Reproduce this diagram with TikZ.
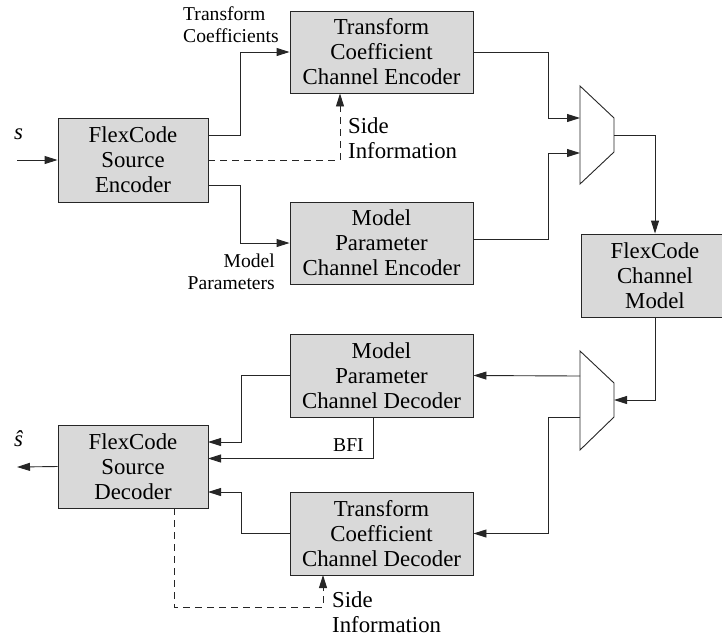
\documentclass[tikz,border=0pt]{standalone}
\usepackage{fontspec}
\setmainfont{Liberation Serif}
\usetikzlibrary{arrows.meta,calc}
\begin{document}
\begin{tikzpicture}[x=1pt,y=-1pt,
  block/.style={draw=black!85,line width=0.9pt,fill=black!15,align=center,
    font=\fontsize{22.8}{25}\selectfont,inner sep=0pt},
  wire/.style={line width=0.9pt,draw=black!85},
  arr/.style={wire,-{Triangle[length=13pt,width=8pt]}},
  dwire/.style={arr,dash pattern=on 7pt off 5pt},
  lbl/.style={font=\fontsize{19.6}{22}\selectfont,inner sep=0pt,align=left},
  biglbl/.style={font=\fontsize{22.8}{25}\selectfont,inner sep=0pt,align=left},
  mux/.style={draw=black!85,line width=0.9pt,fill=white}]
\useasboundingbox (0,0) rectangle (722,641);

% encoder side
\node[block,minimum width=183pt,minimum height=82pt] (tce) at (381.5,52) {Transform\\Coefficient\\Channel Encoder};
\node[block,minimum width=183pt,minimum height=82pt] (mpe) at (381.5,243) {Model\\Parameter\\Channel Encoder};
\node[block,minimum width=150pt,minimum height=84pt] (sce) at (133,160) {FlexCode\\Source\\Encoder};

% channel
\node[block,minimum width=148pt,minimum height=83pt] (cm) at (655,275.5) {FlexCode\\Channel\\Model};

% decoder side
\node[block,minimum width=183pt,minimum height=83pt] (mpd) at (381.5,375.5) {Model\\Parameter\\Channel Decoder};
\node[block,minimum width=183pt,minimum height=83pt] (tcd) at (381.5,533.5) {Transform\\Coefficient\\Channel Decoder};
\node[block,minimum width=150pt,minimum height=83pt] (scd) at (133,466.5) {FlexCode\\Source\\Decoder};

% multiplexer and demultiplexer
\draw[mux] (580,86) -- (614,118) -- (614,152) -- (580,184) -- cycle;
\draw[mux] (580,351) -- (614,383) -- (614,417) -- (580,450) -- cycle;
\coordinate (muxinA) at (580,118);
\coordinate (muxinB) at (580,153);
\coordinate (muxout) at (614,135);
\coordinate (dmxin) at (614,400);
\coordinate (dmxoutA) at (580,376);
\coordinate (dmxoutB) at (580,417);

% free ends
\coordinate (sin) at (17,160);
\coordinate (sout) at (17,467);
\coordinate (bfi) at (373,417);

% labels
\node[biglbl,anchor=base west] (slab) at (14,139) {\textit{s}};
\node[biglbl,anchor=base west] (shatlab) at (14,446) {\textit{ŝ}};
\node[lbl,anchor=north west] (tclab) at (183,6) {Transform\\Coefficients};
\node[lbl,anchor=north east,align=right] (mplab) at (275,254) {Model\\Parameters};
\node[biglbl,anchor=north west] (silab1) at (348,117) {Side\\Information};
\node[biglbl,anchor=north west] (silab2) at (332,591) {Side\\Information};
\node[lbl,anchor=west] (bfilab) at (333,445) {BFI};

% encoder connections
\draw[arr] (sin) -- (sce.west);
\draw[arr] ([yshift=25pt]sce.east) -- ++(32,0) |- (tce.west);
\draw[arr] ([yshift=-25pt]sce.east) -- ++(32,0) |- (mpe.west);
\draw[dwire] (sce.east) -| (340,0 |- tce.south);
\draw[arr] (tce.east) -| (548,118) -- (muxinA);
\draw[arr] ([yshift=4pt]mpe.east) -| (548,153) -- (muxinB);
\draw[arr] (muxout) -| (cm.north);

% decoder connections
\draw[arr] (cm.south) |- (dmxin);
\draw[arr] (dmxoutA) -- (mpd.east);
\draw[arr] (dmxoutB) -| (548,533.5) -- (tcd.east);
\draw[arr] (mpd.west) -- (241,375.5) |- (208,442);
\draw[arr] (bfi) |- (208,458.5);
\draw[arr] (tcd.west) -- (241,533.5) |- (208,492);
\draw[arr] (scd.west) -- (sout);
\draw[dwire] (174,508) |- (323,607) -- (323,575);
\end{tikzpicture}
\end{document}
